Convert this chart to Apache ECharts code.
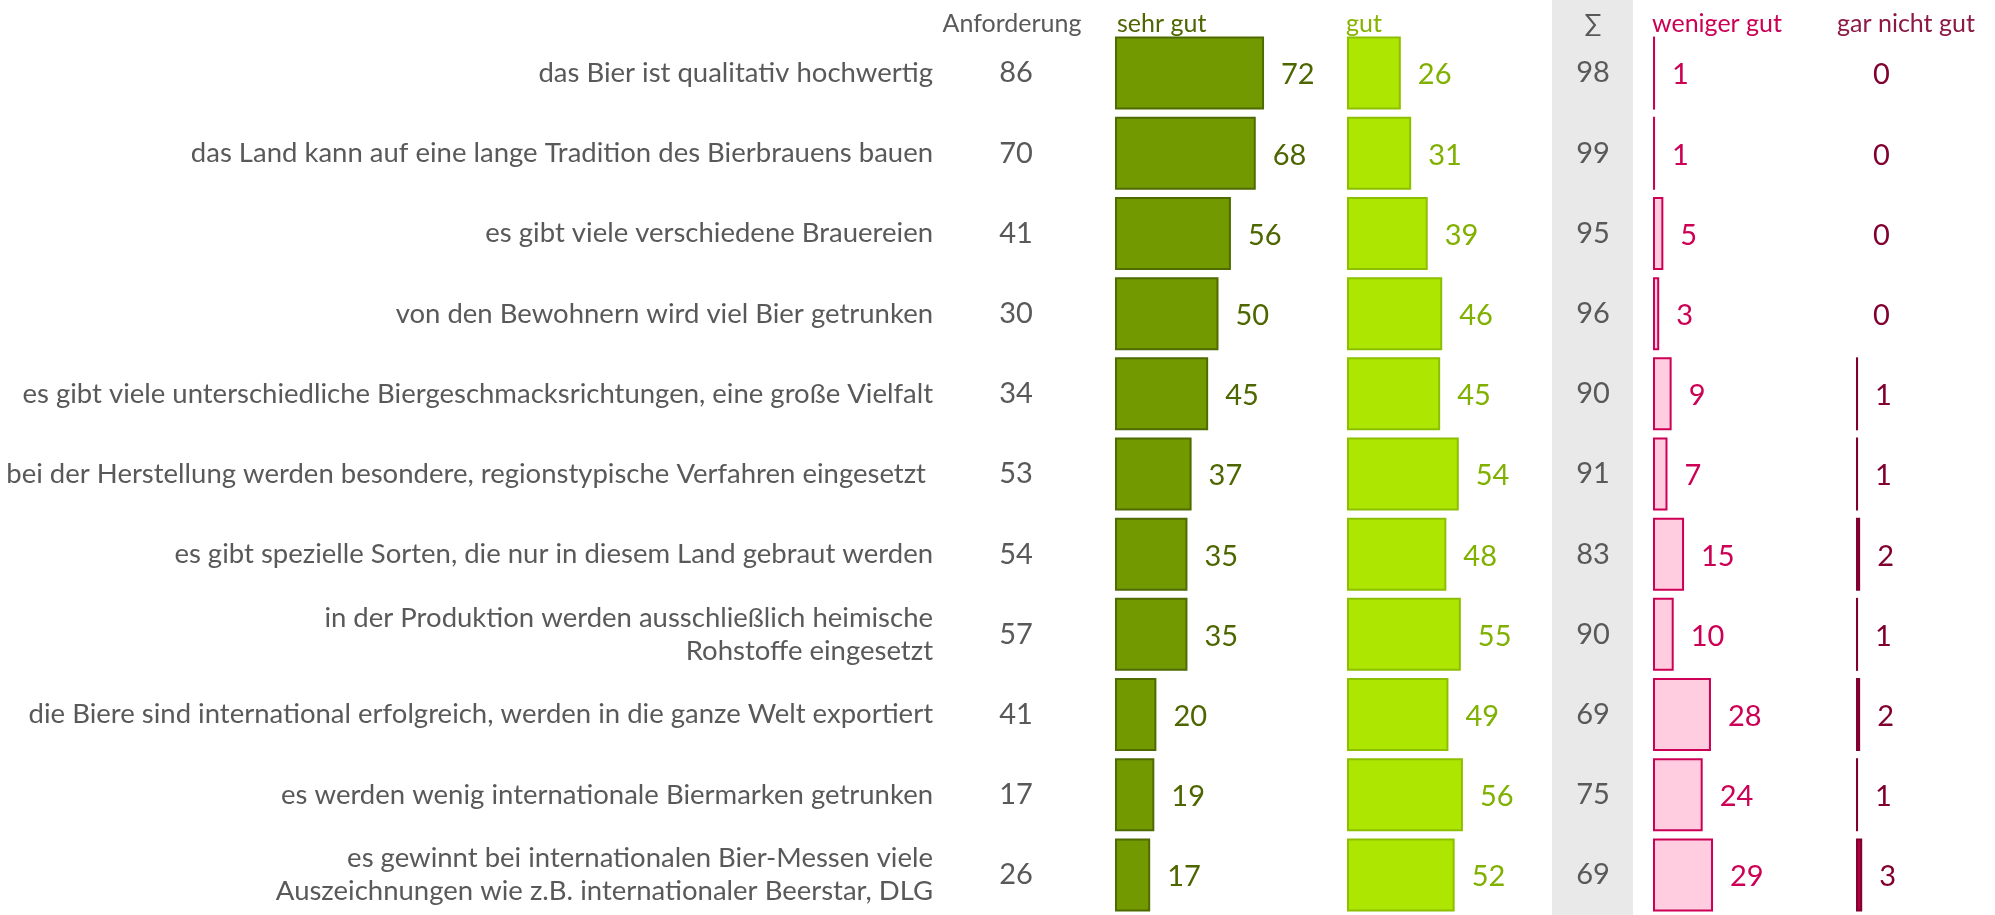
<!DOCTYPE html>
<html>
<head>
<meta charset="utf-8">
<script src="https://cdn.jsdelivr.net/npm/echarts@6/dist/echarts.min.js"></script>
<style>
  html, body { margin: 0; padding: 0; background: #fff; }
  #chart { width: 1995px; height: 915px; }
</style>
</head>
<body>
<div id="chart"></div>
<script>
// Aussagen (Zeilen)
var categories = [
    "das Bier ist qualitativ hochwertig",
    "das Land kann auf eine lange Tradition des Bierbrauens bauen",
    "es gibt viele verschiedene Brauereien",
    "von den Bewohnern wird viel Bier getrunken",
    "es gibt viele unterschiedliche Biergeschmacksrichtungen, eine große Vielfalt",
    "bei der Herstellung werden besondere, regionstypische Verfahren eingesetzt ",
    "es gibt spezielle Sorten, die nur in diesem Land gebraut werden",
    "in der Produktion werden ausschließlich heimische\nRohstoffe eingesetzt",
    "die Biere sind international erfolgreich, werden in die ganze Welt exportiert",
    "es werden wenig internationale Biermarken getrunken",
    "es gewinnt bei internationalen Bier-Messen viele\nAuszeichnungen wie z.B. internationaler Beerstar, DLG"
]
var anforderung = [86, 70, 41, 30, 34, 53, 54, 57, 41, 17, 26]
var sehrGut = [72, 68, 56, 50, 45, 37, 35, 35, 20, 19, 17]
var gut = [26, 31, 39, 46, 45, 54, 48, 55, 49, 56, 52]
var summe = [98, 99, 95, 96, 90, 91, 83, 90, 69, 75, 69]
var wenigerGut = [1, 1, 5, 3, 9, 7, 15, 10, 28, 24, 29]
var garNichtGut = [0, 0, 0, 0, 1, 1, 2, 1, 2, 1, 3]

var headers = ["Anforderung", "sehr gut", "gut", "∑", "weniger gut", "gar nicht gut"]

var fontName = "Lato"
var gray = "#595959"

var chart = echarts.init(document.getElementById("chart"))

// gemeinsame Zeilen-Geometrie
var gridTop = 33
var gridHeight = 888
var unitPx = 2.07  // px pro Prozentpunkt

function makeGrid(left, max) {
    return { left: left, top: gridTop, width: unitPx * max, height: gridHeight, containLabel: false }
}

function hiddenY(gridIndex) {
    return {
        type: "category", gridIndex: gridIndex, data: categories, inverse: true,
        axisLine: { show: false }, axisTick: { show: false }, axisLabel: { show: false }
    }
}

function labelY(gridIndex, margin, align, formatter, fontSize, lineHeight) {
    return {
        type: "category", gridIndex: gridIndex, data: categories, inverse: true,
        position: "left", offset: 0,
        axisLine: { show: false }, axisTick: { show: false },
        axisLabel: {
            margin: margin, align: align, formatter: formatter,
            padding: [5, 0, 0, 0],
            fontFamily: fontName, fontSize: fontSize, lineHeight: lineHeight, color: gray
        }
    }
}

function barData(values) {
    // Nullwerte ohne Rahmen, sonst bleibt ein Strich stehen
    return values.map(function (v) {
        return v === 0 ? { value: 0, itemStyle: { borderWidth: 0 } } : v
    })
}

function barSeries(name, idx, values, fill, border, labelColor) {
    return {
        name: name, type: "bar", xAxisIndex: idx, yAxisIndex: idx,
        data: barData(values), barWidth: 73,
        itemStyle: { color: fill, borderColor: border, borderWidth: 2 },
        label: {
            show: true, position: "right", distance: 17, offset: [0, 2],
            fontFamily: fontName, fontSize: 29, color: labelColor
        },
        silent: true
    }
}

function header(text, x, align, color) {
    return {
        type: "text", z: 10,
        style: {
            text: text, x: x, y: 24, textAlign: align, textVerticalAlign: "middle",
            font: "25px " + fontName, fill: color
        }
    }
}

var option = {
    animation: false,
    grid: [
        makeGrid(1115, 100),
        makeGrid(1347, 100),
        makeGrid(1653, 100),
        makeGrid(1856, 50)
    ],
    xAxis: [
        { type: "value", gridIndex: 0, min: 0, max: 100, show: false },
        { type: "value", gridIndex: 1, min: 0, max: 100, show: false },
        { type: "value", gridIndex: 2, min: 0, max: 100, show: false },
        { type: "value", gridIndex: 3, min: 0, max: 50, show: false }
    ],
    yAxis: [
        hiddenY(0), hiddenY(1), hiddenY(2), hiddenY(3),
        labelY(0, 182, "right", function (v) { return v }, 27.5, 33),
        labelY(0, 99, "center", function (v, i) { return anforderung[i] }, 29, 33),
        labelY(2, 60, "center", function (v, i) { return summe[i] }, 29, 33)
    ],
    graphic: [
        {
            type: "rect", z: -10,
            shape: { x: 1552, y: 0, width: 81, height: 915 },
            style: { fill: "#e9e9e9" }
        },
        header(headers[0], 1012, "center", gray),
        header(headers[1], 1117, "left", "#4d6600"),
        header(headers[2], 1346, "left", "#86b300"),
        header(headers[3], 1593, "center", gray),
        header(headers[4], 1652, "left", "#cc0055"),
        header(headers[5], 1837, "left", "#8c1a45")
    ],
    series: [
        barSeries("sehr gut", 0, sehrGut, "#729900", "#4e6b00", "#4d6600"),
        barSeries("gut", 1, gut, "#ade600", "#8cbf00", "#80b000"),
        barSeries("weniger gut", 2, wenigerGut, "#ffcce0", "#cc0055", "#cc0055"),
        barSeries("gar nicht gut", 3, garNichtGut, "#b3003c", "#800030", "#800030")
    ]
}

chart.setOption(option)
</script>
</body>
</html>
